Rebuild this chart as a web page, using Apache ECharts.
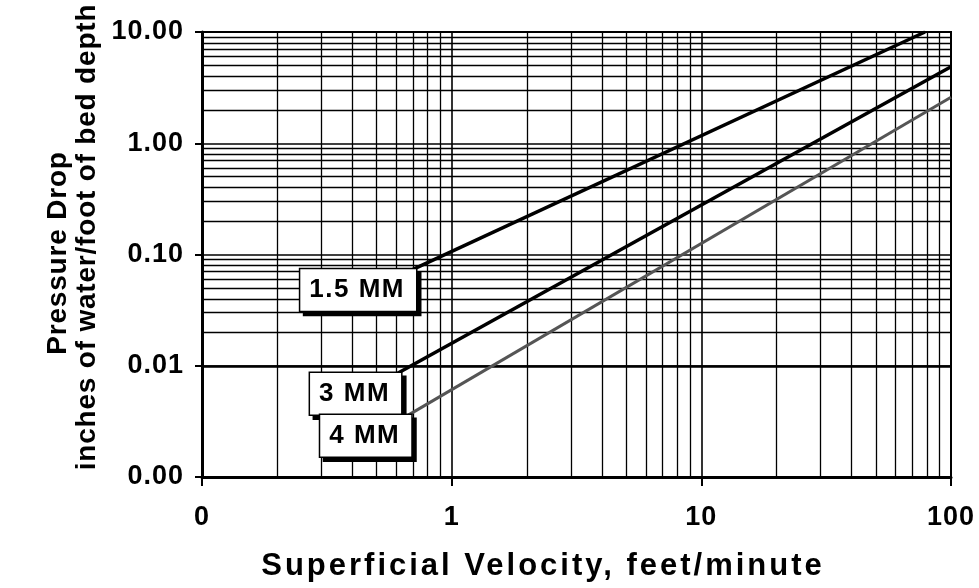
<!DOCTYPE html>
<html><head><meta charset="utf-8">
<script src="https://cdn.jsdelivr.net/npm/echarts@6/dist/echarts.min.js"></script>
<style>html,body{margin:0;padding:0;background:#fff}#c{width:979px;height:588px}</style>
</head><body><div id="c"></div>
<script>
// ---- data ----
const xTickValues = [0.1, 1, 10, 100];
const xTickLabels = ['0', '1', '10', '100'];
const yTickValues = [0.001, 0.01, 0.1, 1, 10];
const yTickLabels = ['0.00', '0.01', '0.10', '1.00', '10.00'];
const xMinorGrid = [0.2,0.3,0.4,0.5,0.6,0.7,0.8,0.9, 2,3,4,5,6,7,8,9, 20,30,40,50,60,70,80,90];
const yMinorGrid = [0.002,0.003,0.004,0.005,0.006,0.007,0.008,0.009, 0.02,0.03,0.04,0.05,0.06,0.07,0.08,0.09,
                    0.2,0.3,0.4,0.5,0.6,0.7,0.8,0.9, 2,3,4,5,6,7,8,9];
const seriesNames = ['1.5 MM', '3 MM', '4 MM'];
const velocity15 = [0.7, 78.7];
const drop15 = [0.0736, 10];
const velocity3 = [0.61, 100];
const drop3 = [0.0086, 4.88];
const velocity4 = [0.67, 100];
const drop4 = [0.0036, 2.59];
const xTitle = 'Superficial Velocity, feet/minute';
const yTitle1 = 'Pressure Drop';
const yTitle2 = 'inches of water/foot of bed depth';

// ---- letter spacing helper (canvas) ----
const LS = {'31': '3px', '28': '0.8px', '27': '1px', '26': '1.5px'};
const P = CanvasRenderingContext2D.prototype;
function applyLS(ctx) {
  const m = /(\d+(?:\.\d+)?)px/.exec(ctx.font || '');
  try { ctx.letterSpacing = (m && LS[m[1]]) || '0px'; } catch (e) {}
}
const oFill = P.fillText, oMeasure = P.measureText, oStroke = P.strokeText;
P.fillText = function () { applyLS(this); return oFill.apply(this, arguments); };
P.strokeText = function () { applyLS(this); return oStroke.apply(this, arguments); };
P.measureText = function () { applyLS(this); return oMeasure.apply(this, arguments); };

const F = "'Liberation Sans', Arial, sans-serif";
function labelFor(values, labels, v) {
  for (let i = 0; i < values.length; i++) {
    if (Math.abs(Math.log10(v) - Math.log10(values[i])) < 1e-6) return labels[i];
  }
  return '';
}
const zip = (a, b) => a.map((v, i) => [v, b[i]]);

const chart = echarts.init(document.getElementById('c'), null, {renderer: 'canvas'});
const option = {
  animation: false,
  backgroundColor: '#fff',
  grid: {left: 202, right: 28, top: 32, bottom: 111, show: true, borderColor: '#000', borderWidth: 2, backgroundColor: 'transparent'},
  xAxis: {
    type: 'log', logBase: 10, min: 0.1, max: 100, splitNumber: 3,
    axisLine: {show: true, onZero: false, lineStyle: {color: '#000', width: 3}},
    axisTick: {show: true, inside: false, length: 9, lineStyle: {color: '#000', width: 2}},
    axisLabel: {margin: 27, color: '#000', fontFamily: F, fontWeight: 'bold', fontSize: 27,
      formatter: v => labelFor(xTickValues, xTickLabels, v)},
    splitLine: {show: true, lineStyle: {color: '#000', width: 1.6}},
    minorTick: {show: false}, minorSplitLine: {show: false}
  },
  yAxis: {
    type: 'log', logBase: 10, min: 0.001, max: 10, splitNumber: 4,
    axisLine: {show: true, onZero: false, lineStyle: {color: '#000', width: 3}},
    axisTick: {show: true, inside: false, length: 7, lineStyle: {color: '#000', width: 2}},
    axisLabel: {margin: 18, color: '#000', fontFamily: F, fontWeight: 'bold', fontSize: 27,
      formatter: v => labelFor(yTickValues, yTickLabels, v)},
    splitLine: {show: true, lineStyle: {color: '#000', width: 1.6}},
    minorTick: {show: false}, minorSplitLine: {show: false}
  },
  series: [
    {
      type: 'line', name: 'grid', data: [], silent: true, z: 1,
      markLine: {
        silent: true, z: 1, symbol: ['none', 'none'], animation: false,
        label: {show: false}, emphasis: {disabled: true},
        lineStyle: {color: '#000', width: 1.3, type: 'solid'},
        data: xMinorGrid.map(v => ({xAxis: v})).concat(yMinorGrid.map(v => ({yAxis: v})))
      }
    },
    {type: 'line', name: seriesNames[0], data: zip(velocity15, drop15), showSymbol: false, symbol: 'none', z: 3,
     lineStyle: {color: '#000', width: 3.5}},
    {type: 'line', name: seriesNames[1], data: zip(velocity3, drop3), showSymbol: false, symbol: 'none', z: 3,
     lineStyle: {color: '#000', width: 3.5}},
    {type: 'line', name: seriesNames[2], data: zip(velocity4, drop4), showSymbol: false, symbol: 'none', z: 3,
     lineStyle: {color: '#555', width: 3}}
  ]
};
chart.setOption(option);

const starts = [[velocity15[0], drop15[0]], [velocity3[0], drop3[0]], [velocity4[0], drop4[0]]];
const boxGraphics = starts.map((s, i) => {
  const p = chart.convertToPixel({xAxisIndex: 0, yAxisIndex: 0}, s);
  return {
    type: 'text', x: p[0] + 3, y: p[1], z: 100,
    style: {
      text: seriesNames[i], font: `bold 26px ${F}`, fill: '#000',
      align: 'right', verticalAlign: 'top',
      backgroundColor: '#fff', borderColor: '#000', borderWidth: 1.5,
      padding: [7, 11, 7, 9],
      shadowColor: '#000', shadowOffsetX: 4, shadowOffsetY: 4, shadowBlur: 0
    }
  };
});
chart.setOption({
  graphic: [
    {type: 'text', x: 543, y: 566, style: {text: xTitle, font: `bold 31px ${F}`, fill: '#000', align: 'center', verticalAlign: 'middle'}},
    {type: 'text', x: 58, y: 253, rotation: Math.PI / 2, style: {text: yTitle1, font: `bold 28px ${F}`, fill: '#000', align: 'center', verticalAlign: 'middle'}},
    {type: 'text', x: 87, y: 237, rotation: Math.PI / 2, style: {text: yTitle2, font: `bold 28px ${F}`, fill: '#000', align: 'center', verticalAlign: 'middle'}}
  ].concat(boxGraphics)
});
</script>
</body></html>
